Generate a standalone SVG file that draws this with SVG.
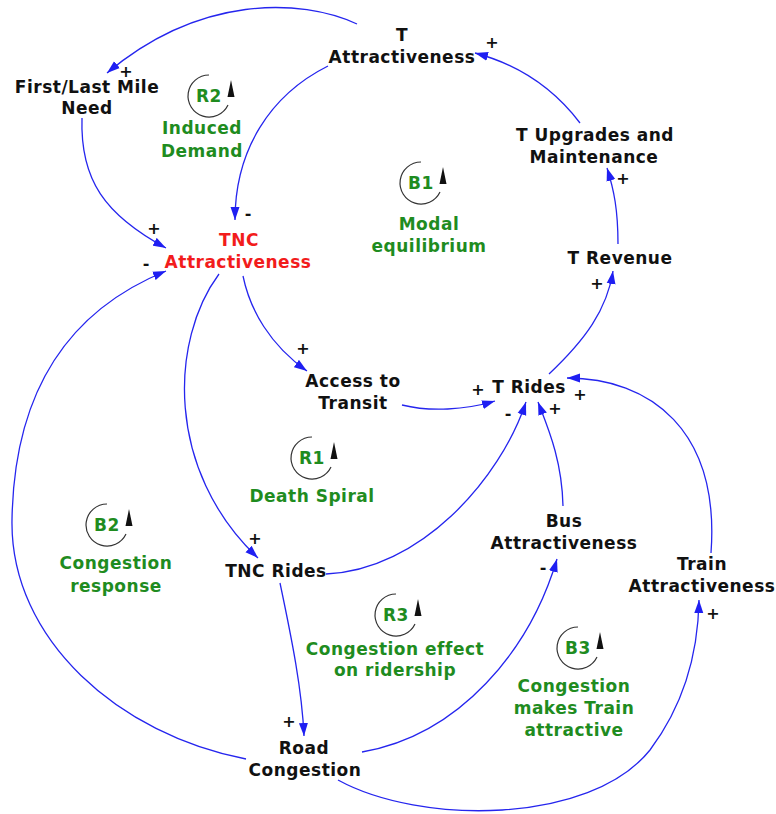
<svg xmlns="http://www.w3.org/2000/svg" width="776" height="814" viewBox="0 0 776 814">
  <defs>
    <style>
      .n{font-family:"DejaVu Sans","Liberation Sans",sans-serif;font-weight:bold;font-size:17px;letter-spacing:0.5px;fill:#111;text-anchor:middle}
      .red{fill:#f21c1c}
      .g{fill:#1f8c1f}
      .s{font-family:"DejaVu Sans","Liberation Sans",sans-serif;font-weight:bold;font-size:16px;fill:#111;text-anchor:middle;dominant-baseline:central}
      .c{fill:none;stroke:#2525ee;stroke-width:1.3;marker-end:url(#arr)}
      .lp{fill:none;stroke:#333;stroke-width:1.2}
    </style>
    <marker id="arr" markerWidth="14" markerHeight="10" refX="13" refY="5" orient="auto" markerUnits="userSpaceOnUse">
      <path d="M0,0.5 L13,5 L0,9.5 z" fill="#1f1ff2"/>
    </marker>
    <!-- loop indicator: open circle with upward arrow on its right side -->
    <g id="loopmark">
      <path class="lp" d="M0,-21 A21,21 0 1 0 19,9"/>
      <polygon points="22,-16 18.5,1 25.5,1" fill="#111"/>
    </g>
  </defs>

  <!-- causal links -->
  <g id="connectors">
    <path class="c" d="M357 24 C300 -2,200 -5,107 73"/>
    <path class="c" d="M328 66 C270 95,235 150,235 220"/>
    <path class="c" d="M82 118 C80 180,105 215,166 248"/>
    <path class="c" d="M246 759 C120 735,10 640,12 520 C14 390,70 310,166 271"/>
    <path class="c" d="M243 276 C250 310,270 345,307 371"/>
    <path class="c" d="M219 274 C170 340,165 470,258 558"/>
    <path class="c" d="M402 405 C430 412,465 410,495 401"/>
    <path class="c" d="M326 574 C420 570,500 480,526 402"/>
    <path class="c" d="M563 506 C562 460,548 428,538 402"/>
    <path class="c" d="M711 553 C720 430,650 378,567 378"/>
    <path class="c" d="M549 374 C585 340,607 310,613 271"/>
    <path class="c" d="M618 244 C618 210,614 190,607 168"/>
    <path class="c" d="M580 123 C555 90,520 65,475 53"/>
    <path class="c" d="M280 583 C292 640,302 690,304 736"/>
    <path class="c" d="M362 752 C460 735,530 650,557 559"/>
    <path class="c" d="M338 780 C420 825,590 825,650 750 C680 710,698 660,699 600"/>
  </g>

  <!-- link polarities -->
  <g id="polarities">
    <text class="s" x="126" y="71">+</text>
    <text class="s" x="248" y="213">-</text>
    <text class="s" x="154" y="228">+</text>
    <text class="s" x="146" y="263">-</text>
    <text class="s" x="492" y="42">+</text>
    <text class="s" x="623" y="178">+</text>
    <text class="s" x="597" y="283">+</text>
    <text class="s" x="303" y="348">+</text>
    <text class="s" x="255" y="538">+</text>
    <text class="s" x="478" y="389">+</text>
    <text class="s" x="580" y="394">+</text>
    <text class="s" x="508" y="413">-</text>
    <text class="s" x="555" y="408">+</text>
    <text class="s" x="543" y="567">-</text>
    <text class="s" x="713" y="613">+</text>
    <text class="s" x="289" y="721">+</text>
  </g>

  <!-- variables -->
  <g id="t-attractiveness">
    <text class="n" x="402" y="41">T</text>
    <text class="n" x="402" y="63">Attractiveness</text>
  </g>
  <g id="first-last-mile-need">
    <text class="n" x="87" y="93">First/Last Mile</text>
    <text class="n" x="87" y="114">Need</text>
  </g>
  <g id="tnc-attractiveness">
    <text class="n red" x="239" y="246">TNC</text>
    <text class="n red" x="238" y="268">Attractiveness</text>
  </g>
  <g id="t-upgrades">
    <text class="n" x="595" y="141">T Upgrades and</text>
    <text class="n" x="594" y="163">Maintenance</text>
  </g>
  <g id="t-revenue">
    <text class="n" x="620" y="264">T Revenue</text>
  </g>
  <g id="access-to-transit">
    <text class="n" x="353" y="387">Access to</text>
    <text class="n" x="353" y="409">Transit</text>
  </g>
  <g id="t-rides">
    <text class="n" x="529" y="393">T Rides</text>
  </g>
  <g id="bus-attractiveness">
    <text class="n" x="564" y="527">Bus</text>
    <text class="n" x="564" y="549">Attractiveness</text>
  </g>
  <g id="train-attractiveness">
    <text class="n" x="702" y="570">Train</text>
    <text class="n" x="702" y="592">Attractiveness</text>
  </g>
  <g id="tnc-rides">
    <text class="n" x="276" y="577">TNC Rides</text>
  </g>
  <g id="road-congestion">
    <text class="n" x="304" y="754">Road</text>
    <text class="n" x="305" y="776">Congestion</text>
  </g>

  <!-- feedback loops -->
  <g id="loop-R2">
    <use href="#loopmark" x="209" y="96"/>
    <text class="n g" x="209" y="102">R2</text>
    <text class="n g" x="202" y="134">Induced</text>
    <text class="n g" x="202" y="157">Demand</text>
  </g>
  <g id="loop-B1">
    <use href="#loopmark" x="421" y="183"/>
    <text class="n g" x="421" y="189">B1</text>
    <text class="n g" x="429" y="230">Modal</text>
    <text class="n g" x="429" y="252">equilibrium</text>
  </g>
  <g id="loop-R1">
    <use href="#loopmark" x="312" y="458"/>
    <text class="n g" x="312" y="464">R1</text>
    <text class="n g" x="312" y="502">Death Spiral</text>
  </g>
  <g id="loop-B2">
    <use href="#loopmark" x="107" y="525"/>
    <text class="n g" x="107" y="531">B2</text>
    <text class="n g" x="116" y="569">Congestion</text>
    <text class="n g" x="116" y="592">response</text>
  </g>
  <g id="loop-R3">
    <use href="#loopmark" x="396" y="615"/>
    <text class="n g" x="396" y="621">R3</text>
    <text class="n g" x="395" y="655">Congestion effect</text>
    <text class="n g" x="395" y="676">on ridership</text>
  </g>
  <g id="loop-B3">
    <use href="#loopmark" x="578" y="648"/>
    <text class="n g" x="578" y="654">B3</text>
    <text class="n g" x="574" y="692">Congestion</text>
    <text class="n g" x="574" y="714">makes Train</text>
    <text class="n g" x="574" y="736">attractive</text>
  </g>
</svg>
